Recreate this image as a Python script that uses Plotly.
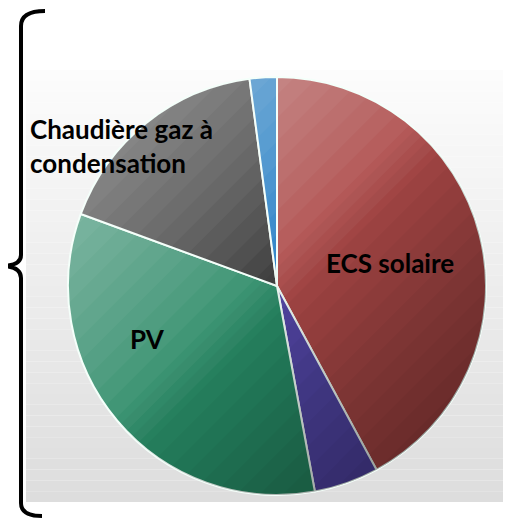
import math
import plotly.graph_objects as go

# ---- data ----
labels = ["ECS solaire", "Autre (violet)", "PV", "Chaudière gaz à condensation", "Autre (bleu)"]
values = [42.1, 5.0, 33.5, 17.3, 2.1]
colors = ["#ad4b4a", "#5548a8", "#2a8a66", "#333333", "#1f7cc4"]
shown_text = ["ECS solaire", "", "PV", "Chaudière gaz à<br>condensation", ""]

# page offset (browser body margin) and figure size
OFF = 8
W, H = 511 - OFF, 519 - OFF

def px(x):
    return (x - OFF) / W

def py(y):
    return 1 - (y - OFF) / H

fig = go.Figure()

# pie: centre ~ (277, 286) px, diameter ~ 418 px
cx, cy, R = 277, 286, 209
fig.add_trace(go.Pie(
    labels=labels,
    values=values,
    sort=False,
    direction="clockwise",
    rotation=0,
    marker=dict(colors=colors, line=dict(color="#f4fffa", width=2)),
    textinfo="none",
    hoverinfo="label+percent",
    showlegend=False,
    domain=dict(x=[px(cx - R), px(cx + R)], y=[py(cy + R), py(cy - R)]),
))

shapes = []
# background gradient panel (decoration)
top, bot, left, right = 70, 502, 26, 511
n = 40
for i in range(n):
    t = i / (n - 1)
    c = int(round(252 - (252 - 221) * t))
    y0 = top + (bot - top) * i / n
    y1 = top + (bot - top) * (i + 1) / n
    shapes.append(dict(type="rect", xref="paper", yref="paper", layer="below",
                       x0=px(left), x1=px(right), y0=py(y1), y1=py(y0),
                       fillcolor=f"rgb({c},{c},{c})", line=dict(width=0)))

# lighting overlay on the pie: light top-left, dark bottom-right (decoration)
def segment_path(t, light):
    a = math.acos(max(-1.0, min(1.0, t)))
    base = math.radians(45)
    if light:
        th0, th1 = base + a, base + 2 * math.pi - a
    else:
        th0, th1 = base - a, base + a
    m = 72
    parts = []
    for k in range(m + 1):
        th = th0 + (th1 - th0) * k / m
        x = cx + R * math.cos(th)
        y = cy + R * math.sin(th)
        parts.append(f"{px(x):.5f},{py(y):.5f}")
    return "M " + " L ".join(parts) + " Z"

nb = 14
for k in range(nb):
    t = -1 + (k + 0.5) / nb * 1.1
    shapes.append(dict(type="path", xref="paper", yref="paper", path=segment_path(t, True),
                       fillcolor="rgba(255,255,255,0.04)", line=dict(width=0), layer="above"))
for k in range(nb):
    t = -0.1 + (k + 0.5) / nb * 1.1
    shapes.append(dict(type="path", xref="paper", yref="paper", path=segment_path(t, False),
                       fillcolor="rgba(0,0,0,0.033)", line=dict(width=0), layer="above"))

# curly brace on the left
pts = [("M", 45, 11), ("Q", 21, 11, 21, 26), ("L", 21, 255), ("Q", 21, 266, 1, 266),
       ("Q", 21, 266, 21, 278), ("L", 21, 503), ("Q", 21, 516, 42, 516)]
path = ""
for p in pts:
    cmd = p[0]
    coords = p[1:]
    s = []
    for j in range(0, len(coords), 2):
        s.append(f"{px(coords[j]):.5f},{py(coords[j+1]):.5f}")
    path += cmd + " " + " ".join(s) + " "
shapes.append(dict(type="path", xref="paper", yref="paper", path=path.strip(),
                   line=dict(color="black", width=4), layer="above"))

font = dict(family="Lato", size=26, color="black")
annotations = [
    dict(text="<b>" + shown_text[0] + "</b>", x=px(390), y=py(263), xref="paper", yref="paper",
         showarrow=False, font=font, xanchor="center", yanchor="middle"),
    dict(text="<b>" + shown_text[2] + "</b>", x=px(147), y=py(339), xref="paper", yref="paper",
         showarrow=False, font=font, xanchor="center", yanchor="middle"),
    dict(text="<b>" + shown_text[3] + "</b>", x=px(28), y=py(146), xref="paper", yref="paper",
         showarrow=False, font=font, xanchor="left", yanchor="middle", align="left"),
]

fig.update_layout(
    width=W, height=H, autosize=False,
    margin=dict(l=0, r=0, t=0, b=0),
    paper_bgcolor="rgba(0,0,0,0)", plot_bgcolor="rgba(0,0,0,0)",
    shapes=shapes, annotations=annotations,
)

fig.write_html("out.html")
